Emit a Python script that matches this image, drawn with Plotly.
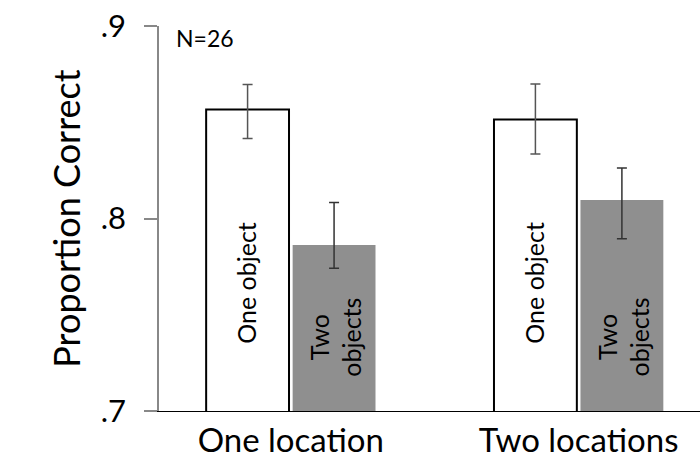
import plotly.graph_objects as go

# Conditions and mean proportion correct (with asymmetric error bars)
groups = ["One location", "Two locations"]
one_object = [0.8566, 0.8514]
one_object_err_up = [0.0130, 0.0185]
one_object_err_down = [0.0151, 0.0179]
two_objects = [0.7862, 0.8096]
two_objects_err_up = [0.0221, 0.0166]
two_objects_err_down = [0.0120, 0.0201]
bar_labels = ["One object", "Two<br>objects"]
y_ticks = [0.7, 0.8, 0.9]
y_tick_text = [".7", ".8", ".9"]

FONT = "Lato"

fig = go.Figure()
fig.add_trace(go.Bar(
    x=groups, y=one_object, name=bar_labels[0],
    marker=dict(color="white", line=dict(color="black", width=2)),
    error_y=dict(type="data", symmetric=False, array=one_object_err_up,
                 arrayminus=one_object_err_down, color="#555555",
                 thickness=1.5, width=5),
))
fig.add_trace(go.Bar(
    x=groups, y=two_objects, name=bar_labels[1],
    marker=dict(color="#8f8f8f", line=dict(width=0)),
    error_y=dict(type="data", symmetric=False, array=two_objects_err_up,
                 arrayminus=two_objects_err_down, color="#333333",
                 thickness=1.5, width=5),
))

# Rotated labels inside the bars
for g in groups:
    fig.add_annotation(x=g, y=0.7665, xref="x", yref="y", text=bar_labels[0],
                       textangle=-90, showarrow=False, xshift=-45,
                       font=dict(family=FONT, size=25, color="black"))
    fig.add_annotation(x=g, y=0.7385, xref="x", yref="y", text=bar_labels[1],
                       textangle=-90, showarrow=False, xshift=45,
                       font=dict(family=FONT, size=25, color="black"))

fig.add_annotation(x=0, y=1, xref="paper", yref="paper", xanchor="left",
                   yanchor="top", xshift=15, yshift=4, text="N=26", showarrow=False,
                   font=dict(family=FONT, size=23, color="black"))

fig.update_layout(
    width=700, height=460,
    margin=dict(l=159, r=0, t=26, b=49),
    paper_bgcolor="white", plot_bgcolor="white",
    barmode="group", bargap=0.399, bargroupgap=0.042,
    showlegend=False,
    font=dict(family=FONT, color="black"),
    xaxis=dict(
        range=[-0.458, 1.4216], showline=True, linecolor="black", linewidth=1,
        ticks="", showgrid=False, zeroline=False,
        tickfont=dict(family=FONT, size=33, color="black"),
    ),
    yaxis=dict(
        range=[0.7, 0.9], tickvals=y_ticks, ticktext=y_tick_text,
        showline=True, linecolor="#888888", linewidth=1.5,
        ticks="outside", ticklen=13, tickcolor="#888888", tickwidth=1.5,
        ticklabelstandoff=12, showgrid=False, zeroline=False,
        tickfont=dict(family=FONT, size=31, color="black"),
        title=dict(text="Proportion Correct", standoff=9,
                   font=dict(family=FONT, size=36, color="black")),
    ),
)

fig.write_html("out.html")
